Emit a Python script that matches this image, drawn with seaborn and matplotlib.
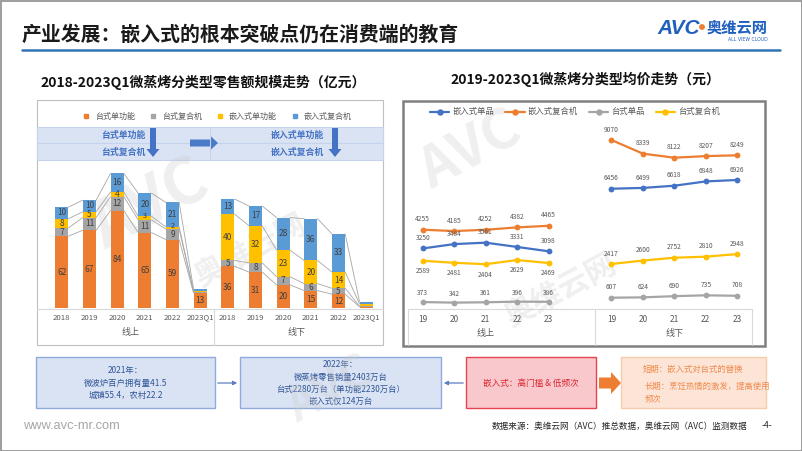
import matplotlib
matplotlib.use('Agg')
import matplotlib.pyplot as plt
import matplotlib.patches as mpatches
import matplotlib.transforms as mtrans
from matplotlib.lines import Line2D
import pandas as pd
import seaborn as sns

# ---------------- data ----------------
bar_years = ['2018', '2019', '2020', '2021', '2022', '2023Q1']
bar_channels = ['线上', '线下']
bar_series = ['台式单功能', '台式复合机', '嵌入式单功能', '嵌入式复合机']
online_desk_single = [62, 67, 84, 65, 59, 13]
online_desk_combo = [7, 11, 12, 11, 9, 1]
online_emb_single = [8, 5, 4, 3, 2, 0.5]
online_emb_combo = [10, 10, 16, 20, 21, 2]
offline_desk_single = [36, 31, 20, 15, 12, 1]
offline_desk_combo = [5, 8, 7, 6, 5, 0.5]
offline_emb_single = [40, 32, 23, 20, 14, 2]
offline_emb_combo = [13, 17, 28, 36, 33, 2]

price_years = ['19', '20', '21', '22', '23']
price_series = ['嵌入式单品', '嵌入式复合机', '台式单品', '台式复合机']
online_emb_item = [3250, 3484, 3561, 3331, 3098]
online_emb_combo_price = [4255, 4185, 4252, 4382, 4465]
online_desk_item = [373, 342, 361, 396, 386]
online_desk_combo_price = [2589, 2481, 2404, 2629, 2469]
offline_emb_item = [6456, 6499, 6618, 6848, 6926]
offline_emb_combo_price = [9070, 8339, 8122, 8207, 8249]
offline_desk_item = [607, 624, 690, 735, 708]
offline_desk_combo_price = [2417, 2600, 2752, 2810, 2948]

bar_colors = ['#ED7D31', '#A5A5A5', '#FFC000', '#5B9BD5']
line_colors = ['#4472C4', '#ED7D31', '#A5A5A5', '#FFC000']

# ---------------- setup ----------------
sns.set_theme(style='white')
plt.rcParams['font.family'] = ['Noto Sans CJK SC', 'DejaVu Sans']

W, H = 802, 451
fig = plt.figure(figsize=(W / 100, H / 100), dpi=100)
ax0 = fig.add_axes([0, 0, 1, 1])
ax0.set_xlim(0, W)
ax0.set_ylim(H, 0)
ax0.axis('off')


def pax(x0, y0, x1, y1):
    a = fig.add_axes([x0 / W, 1 - y1 / H, (x1 - x0) / W, (y1 - y0) / H])
    a.patch.set_alpha(0)
    return a


def box(x0, y0, x1, y1, fc, ec, lw=1.0):
    ax0.add_patch(mpatches.Rectangle((x0, y0), x1 - x0, y1 - y0, fc=fc, ec=ec, lw=lw))


# slide frame, title, logo
box(0.5, 0.5, 801.5, 450.5, 'white', '#8C8C8C', 1.2)
ax0.text(22, 34, '产业发展：嵌入式的根本突破点仍在消费端的教育', fontsize=14.3,
         weight='bold', color='#1A1A1A', va='center')
ax0.plot([22, 780], [50, 50], color='#2E75B6', lw=1.8)
ax0.text(657, 29, 'AVC', fontsize=15, weight='bold', style='italic', color='#1F5FBF',
         family='Liberation Sans', va='center')
ax0.add_patch(mpatches.Circle((702, 27), 2.2, color='#ED7D31'))
ax0.text(707, 28, '奥维云网', fontsize=11, weight='bold', color='#1F5FBF', va='center')
ax0.text(748, 39.5, 'ALL VIEW CLOUD', fontsize=3.3, color='#1F5FBF', ha='center',
         va='center', family='DejaVu Sans')

ax0.text(40, 83, '2018-2023Q1微蒸烤分类型零售额规模走势（亿元）', fontsize=10,
         weight='bold', color='#111111', va='center')
ax0.text(450, 79, '2019-2023Q1微蒸烤分类型均价走势（元）', fontsize=10,
         weight='bold', color='#111111', va='center')

# chart frames
box(37, 100, 383, 345, 'white', '#BFBFBF', 0.8)
box(403, 101, 765, 346, 'white', '#808080', 1.8)

# faint watermarks
for wx, wy, wt, fs in [(150, 205, 'AVC', 46), (470, 150, 'AVC', 40), (250, 250, '奥维云网', 22),
                       (560, 290, '奥维云网', 22), (330, 390, 'AVC', 34)]:
    ax0.text(wx, wy, wt, fontsize=fs, weight='bold', color='#C8C8C8', alpha=0.28,
             rotation=28, ha='center', va='center', zorder=10)

# band with arrows on left chart
box(37, 127, 383, 143, '#DAE3F3', '#C5D3EC', 0.8)
box(37, 143, 383, 160, '#DAE3F3', '#C5D3EC', 0.8)
ax0.plot([210, 210], [127, 160], color='#C5D3EC', lw=0.8)
band_c = '#4472C4'
ax0.text(123, 135, '台式单功能', fontsize=6.4, weight='bold', color=band_c, ha='center', va='center')
ax0.text(123, 152, '台式复合机', fontsize=6.4, weight='bold', color=band_c, ha='center', va='center')
ax0.text(297, 135, '嵌入式单功能', fontsize=6.4, weight='bold', color=band_c, ha='center', va='center')
ax0.text(297, 152, '嵌入式复合机', fontsize=6.4, weight='bold', color=band_c, ha='center', va='center')
for ax_x in (153, 335):
    ax0.add_patch(mpatches.FancyArrow(ax_x, 128, 0, 29, width=6, head_width=13, head_length=8,
                                      length_includes_head=True, fc='#4472C4', ec='none'))
ax0.add_patch(mpatches.FancyArrow(190, 143, 28, 0, width=7, head_width=15, head_length=8,
                                  length_includes_head=True, fc='#4A7BC8', ec='none'))

# left legend
leg_h = [Line2D([], [], marker='s', ls='', color=c, markersize=3.2) for c in bar_colors]
ax0.legend(leg_h, bar_series, loc='center', bbox_to_anchor=(215, 116),
           bbox_transform=ax0.transData, ncol=4, frameon=False, fontsize=5.8,
           handletextpad=0.05, columnspacing=1.3, labelcolor='#595959', borderpad=0)

# axis boxes below charts
ax0.plot([37, 383], [309, 309], color='#D9D9D9', lw=0.8)
ax0.plot([214, 214], [309, 345], color='#D9D9D9', lw=0.8)
ax0.plot([408, 752], [309, 309], color='#D9D9D9', lw=0.8)
for xx in (408, 595, 752):
    ax0.plot([xx, xx], [309, 345], color='#D9D9D9', lw=0.8)

# ---------------- left stacked bars ----------------
keys = [f'{c}{y}' for c in bar_channels for y in bar_years]
stack = pd.DataFrame({
    '台式单功能': online_desk_single + offline_desk_single,
    '台式复合机': online_desk_combo + offline_desk_combo,
    '嵌入式单功能': online_emb_single + offline_emb_single,
    '嵌入式复合机': online_emb_combo + offline_emb_combo,
})
cum = stack.cumsum(axis=1)
cum['key'] = keys

axL = pax(48, 160, 380, 308)
bw = 0.48
for s, c in reversed(list(zip(bar_series, bar_colors))):
    sns.barplot(data=cum, x='key', y=s, order=keys, color=c, saturation=1,
                width=bw, errorbar=None, linewidth=0, ax=axL)
n_per = len(bar_years)
for s in bar_series:
    for g in range(len(bar_channels)):
        for j in range(n_per - 1):
            i = g * n_per + j
            axL.plot([i + bw / 2, i + 1 - bw / 2], [cum[s][i], cum[s][i + 1]],
                     color='#A6A6A6', lw=0.6, zorder=1)
for s in bar_series:
    for i in range(len(keys)):
        v = stack[s][i]
        if v < 1.5 or (i % n_per == n_per - 1 and v < 5):
            continue
        yc = cum[s][i] - v / 2
        fs = 6
        if v <= 3:
            yc = cum[s][i] + 0.3
            fs = 5.2
        axL.text(i, yc, f'{v:g}', ha='center', va='center',
                 fontsize=fs, color='#404040', zorder=5)
axL.set_xlim(-0.5, len(keys) - 0.5)
axL.set_ylim(0, 127.6)
axL.set_xticks(range(len(keys)))
axL.set_xticklabels(bar_years * len(bar_channels), fontsize=5.6, color='#595959')
axL.tick_params(axis='x', length=0, pad=4)
axL.set_yticks([])
axL.set_xlabel('')
axL.set_ylabel('')
for sp in axL.spines.values():
    sp.set_visible(False)
trL = mtrans.blended_transform_factory(axL.transData, axL.transAxes)
for g, ch in enumerate(bar_channels):
    axL.text(g * n_per + (n_per - 1) / 2, -0.163, ch, transform=trL, ha='center',
             va='center', fontsize=6.5, color='#595959')

# ---------------- right price lines ----------------
price_online = [online_emb_item, online_emb_combo_price, online_desk_item, online_desk_combo_price]
price_offline = [offline_emb_item, offline_emb_combo_price, offline_desk_item, offline_desk_combo_price]
rows = []
for k, s in enumerate(price_series):
    for j, y in enumerate(price_years):
        rows.append({'series': s, 'channel': '线上', 'pos': j, 'price': price_online[k][j]})
        rows.append({'series': s, 'channel': '线下', 'pos': j + 6, 'price': price_offline[k][j]})
dfp = pd.DataFrame(rows)

axR = pax(407, 105, 753, 309)
sns.lineplot(data=dfp, x='pos', y='price', hue='series', units='channel', estimator=None,
             hue_order=price_series, palette=line_colors, marker='o', markersize=4.2,
             markeredgewidth=0, linewidth=1.6, legend=False, ax=axR)
label_off = {('嵌入式单品', '线上'): 7.5, ('嵌入式单品', '线下'): 7.5,
             ('嵌入式复合机', '线上'): 7.5, ('嵌入式复合机', '线下'): 7.5,
             ('台式单品', '线上'): 6.5, ('台式单品', '线下'): 7.5,
             ('台式复合机', '线上'): -7.5, ('台式复合机', '线下'): 7.5}
for _, r in dfp.iterrows():
    axR.annotate(f"{r['price']}", (r['pos'], r['price']),
                 xytext=(0, label_off[(r['series'], r['channel'])]),
                 textcoords='offset points', ha='center', va='center',
                 fontsize=4.8, color='#595959')
axR.set_xlim(-0.5, 10.5)
axR.set_ylim(0, 10950)
axR.set_xticks(list(range(5)) + list(range(6, 11)))
axR.set_xticklabels(price_years * 2, fontsize=6, color='#595959')
axR.tick_params(axis='x', length=0, pad=4)
axR.set_yticks([])
axR.set_xlabel('')
axR.set_ylabel('')
for sp in axR.spines.values():
    sp.set_visible(False)
trR = mtrans.blended_transform_factory(axR.transData, axR.transAxes)
axR.text(2, -0.118, '线上', transform=trR, ha='center', va='center', fontsize=6.5, color='#595959')
axR.text(8, -0.118, '线下', transform=trR, ha='center', va='center', fontsize=6.5, color='#595959')
lh = [Line2D([], [], color=c, marker='o', markersize=3.6, lw=1.6) for c in line_colors]
axR.legend(lh, price_series, loc='center', bbox_to_anchor=(0.486, 0.966), ncol=4,
           frameon=False, fontsize=6, handlelength=2.3, handletextpad=0.4,
           columnspacing=1.3, labelcolor='#595959', borderpad=0)

# ---------------- bottom flow boxes ----------------
blue_txt = '#2F5597'
box(36, 357, 215, 408, '#DAE3F3', '#8FAADC', 1.0)
ax0.text(125.5, 383, '2021年：\n微波炉百户拥有量41.5\n城镇55.4，农村22.2', ha='center',
         va='center', fontsize=6, color=blue_txt, linespacing=1.5)
box(240, 357, 441, 408, '#DAE3F3', '#8FAADC', 1.0)
ax0.text(340.5, 383, '2022年：\n微蒸烤零售销量2403万台\n台式2280万台（单功能2230万台）\n嵌入式仅124万台',
         ha='center', va='center', fontsize=6, color=blue_txt, linespacing=1.45)
box(466, 357, 596, 408, '#F8C8CC', '#E8424F', 1.0)
ax0.text(531, 383, '嵌入式：高门槛 & 低频次', ha='center', va='center', fontsize=6.2,
         color='#D9262E')
box(621, 357, 766, 408, '#FCE4D6', '#F8CBAD', 1.0)
ax0.text(643, 369, '短期：嵌入式对台式的替换', va='center', fontsize=6, color='#F08A4B')
ax0.text(645, 393, '长期：烹饪热情的激发，提高使用\n频次', va='center', fontsize=6,
         color='#F08A4B', linespacing=1.5)
ax0.annotate('', xy=(240, 383), xytext=(215, 383),
             arrowprops=dict(arrowstyle='-|>', color='#5B7FC0', lw=0.9, mutation_scale=6))
ax0.annotate('', xy=(441, 383), xytext=(466, 383),
             arrowprops=dict(arrowstyle='-|>', color='#5B7FC0', lw=0.9, mutation_scale=6))
ax0.add_patch(mpatches.FancyArrow(599, 383, 22, 0, width=11, head_width=22, head_length=10,
                                  length_includes_head=True, fc='#ED7D31', ec='none'))

# footer
ax0.text(23, 426, 'www.avc-mr.com', fontsize=9.3, color='#A6A6A6', va='center',
         family='Liberation Sans')
ax0.text(747, 426, '数据来源：奥维云网（AVC）推总数据，奥维云网（AVC）监测数据', ha='right',
         va='center', fontsize=6.2, color='#262626')
ax0.text(767, 426, '-4-', ha='center', va='center', fontsize=6.2, color='#262626')

fig.savefig('out.png', dpi=100)
